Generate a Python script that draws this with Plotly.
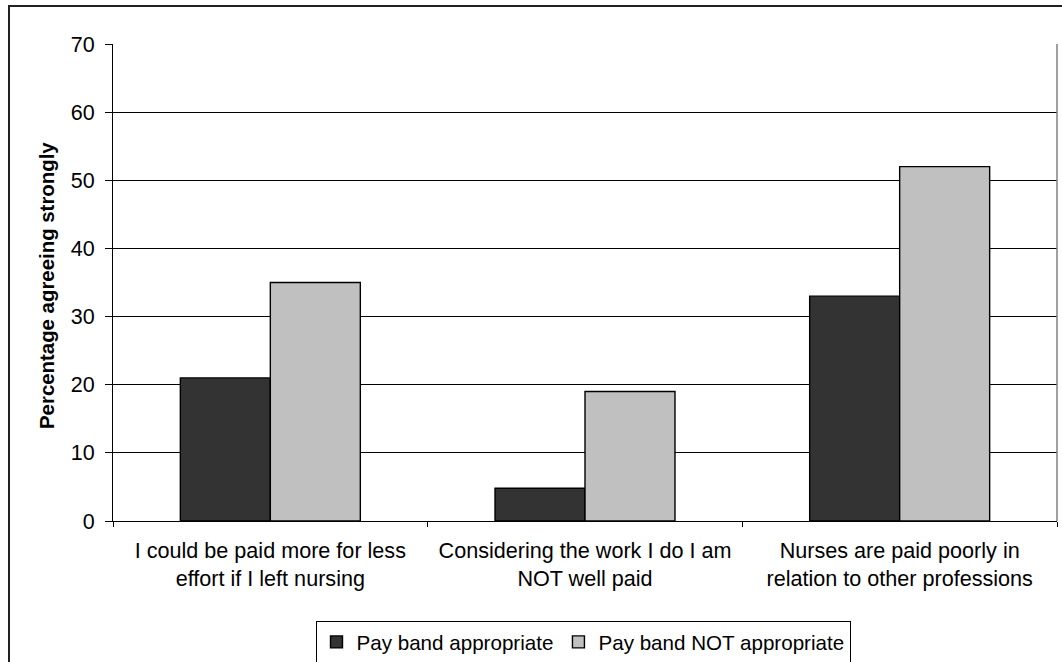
import plotly.graph_objects as go

categories = [
    "I could be paid more for less<br>effort if I left nursing",
    "Considering the work I do I am<br>NOT well paid",
    "Nurses are paid poorly in<br>relation to other professions",
]
series_names = ["Pay band appropriate", "Pay band NOT appropriate"]
appropriate = [21, 4.8, 33]
not_appropriate = [35, 19, 52]
y_ticks = [0, 10, 20, 30, 40, 50, 60, 70]

FONT = "Arial, Liberation Sans, sans-serif"

fig = go.Figure()
fig.add_trace(go.Bar(
    x=categories, y=appropriate, name=series_names[0],
    marker=dict(color="#333333", line=dict(color="#000000", width=1.4)),
))
fig.add_trace(go.Bar(
    x=categories, y=not_appropriate, name=series_names[1],
    marker=dict(color="#C0C0C0", line=dict(color="#000000", width=1.4)),
))

W, H = 1062, 662
L, R, T, B = 113, 1062 - 1057, 44, 662 - 521
pw, ph = W - L - R, H - T - B

def px_x(p):
    return (p - L) / pw

def px_y(p):
    return (H - B - p) / ph

fig.update_layout(
    width=W, height=H, autosize=False,
    margin=dict(l=L, r=R, t=T, b=B, pad=0),
    paper_bgcolor="white", plot_bgcolor="white",
    barmode="group", bargap=0.428, bargroupgap=0,
    font=dict(family=FONT, size=21, color="#000000"),
    showlegend=True,
    legend=dict(
        orientation="h", xref="container", yref="container",
        x=583 / W, xanchor="center", y=(H - 621) / H, yanchor="top",
        bordercolor="#000000", borderwidth=1, bgcolor="white",
        font=dict(family=FONT, size=20.6, color="#000000"),
        itemwidth=30, traceorder="normal",
    ),
    xaxis=dict(
        showline=True, linecolor="#000000", linewidth=1,
        ticks="outside", ticklen=5, tickcolor="#000000", tickson="boundaries",
        showgrid=False, tickfont=dict(size=21.6), automargin=False,
        ticklabelstandoff=10,
    ),
    yaxis=dict(
        range=[0, 70], tickvals=y_ticks, showline=True, linecolor="#000000", linewidth=1,
        ticks="outside", ticklen=7, tickcolor="#000000",
        showgrid=True, gridcolor="#000000", gridwidth=1,
        tickfont=dict(size=21.5), ticklabelstandoff=6, automargin=False, zeroline=False,
    ),
    shapes=[
        dict(type="rect", xref="paper", yref="paper",
             x0=px_x(9), x1=px_x(1075), y0=px_y(6), y1=px_y(675),
             line=dict(color="#222222", width=2), fillcolor="rgba(0,0,0,0)", layer="below"),
        dict(type="line", xref="paper", yref="paper",
             x0=1, x1=1, y0=0, y1=1, line=dict(color="#808080", width=1.5)),
    ],
    annotations=[
        dict(text="<b>Percentage agreeing strongly</b>", xref="paper", yref="paper",
             x=px_x(47), y=px_y(286), xanchor="center", yanchor="middle",
             textangle=-90, showarrow=False, font=dict(family=FONT, size=20.4, color="#000000")),
    ],
)

fig.write_html(
    "out.html",
    config={"displayModeBar": False},
    post_script="document.body.style.margin='0';document.body.style.overflow='hidden';",
)
